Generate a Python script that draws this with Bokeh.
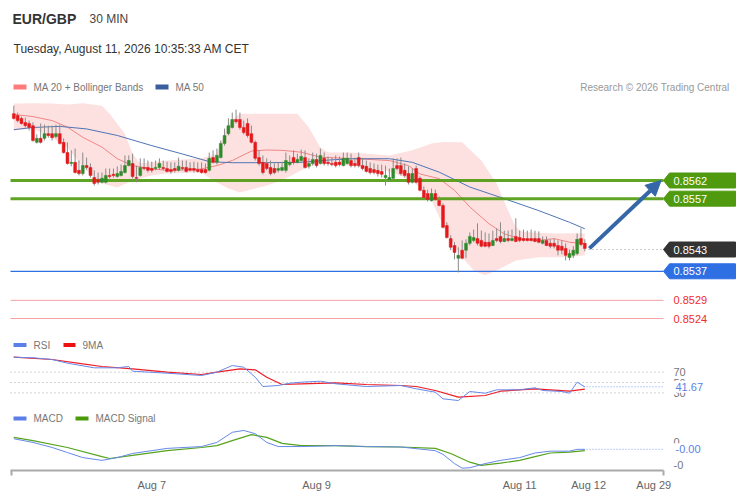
from bokeh.plotting import figure
from bokeh.models import (Range1d, FixedTicker, Label, BoxAnnotation, Arrow,
                          NormalHead, ColumnDataSource)
from bokeh.embed import file_html
from bokeh.resources import INLINE

FONT = "Liberation Sans"

# ---------------- data ----------------
symbol = "EUR/GBP"
timeframe = "30 MIN"
timestamp = "Tuesday, August 11, 2026 10:35:33 AM CET"
credit = "Research \u00a9 2026 Trading Central"

opens = [0.85804, 0.85799, 0.85791, 0.85780, 0.85777, 0.85771, 0.85725, 0.85736, 0.85736, 0.85749,
         0.85749, 0.85741, 0.85749, 0.85725, 0.85697, 0.85667, 0.85670, 0.85648, 0.85639, 0.85661,
         0.85656, 0.85628, 0.85623, 0.85615, 0.85615, 0.85634, 0.85637, 0.85631, 0.85634, 0.85642,
         0.85661, 0.85667, 0.85628, 0.85634, 0.85656, 0.85656, 0.85653, 0.85653, 0.85656, 0.85656,
         0.85653, 0.85650, 0.85653, 0.85648, 0.85656, 0.85656, 0.85653, 0.85653, 0.85650, 0.85650,
         0.85650, 0.85648, 0.85683, 0.85670, 0.85683, 0.85722, 0.85749, 0.85766, 0.85788, 0.85788,
         0.85766, 0.85777, 0.85749, 0.85725, 0.85683, 0.85670, 0.85667, 0.85656, 0.85653, 0.85648,
         0.85648, 0.85648, 0.85664, 0.85683, 0.85670, 0.85675, 0.85683, 0.85659, 0.85667, 0.85678,
         0.85667, 0.85681, 0.85670, 0.85667, 0.85670, 0.85670, 0.85661, 0.85667, 0.85675, 0.85667,
         0.85683, 0.85661, 0.85659, 0.85653, 0.85650, 0.85648, 0.85645, 0.85628, 0.85623, 0.85626,
         0.85661, 0.85661, 0.85648, 0.85639, 0.85615, 0.85653, 0.85626, 0.85593, 0.85584, 0.85565,
         0.85584, 0.85565, 0.85551, 0.85496, 0.85460, 0.85441, 0.85406, 0.85428, 0.85428, 0.85447,
         0.85455, 0.85460, 0.85455, 0.85450, 0.85450, 0.85441, 0.85460, 0.85466, 0.85452, 0.85460,
         0.85455, 0.85466, 0.85463, 0.85460, 0.85460, 0.85460, 0.85460, 0.85460, 0.85447, 0.85455,
         0.85447, 0.85447, 0.85441, 0.85439, 0.85433, 0.85408, 0.85414, 0.85419, 0.85460, 0.85447]

highs = [0.85826, 0.85807, 0.85796, 0.85793, 0.85785, 0.85780, 0.85747, 0.85777, 0.85774, 0.85771,
         0.85771, 0.85774, 0.85774, 0.85736, 0.85725, 0.85703, 0.85708, 0.85675, 0.85697, 0.85683,
         0.85667, 0.85648, 0.85642, 0.85642, 0.85653, 0.85653, 0.85653, 0.85659, 0.85664, 0.85689,
         0.85689, 0.85694, 0.85661, 0.85681, 0.85681, 0.85675, 0.85672, 0.85675, 0.85681, 0.85675,
         0.85672, 0.85670, 0.85670, 0.85683, 0.85675, 0.85675, 0.85670, 0.85672, 0.85670, 0.85670,
         0.85667, 0.85697, 0.85703, 0.85708, 0.85730, 0.85763, 0.85791, 0.85807, 0.85815, 0.85807,
         0.85785, 0.85791, 0.85771, 0.85730, 0.85703, 0.85689, 0.85681, 0.85675, 0.85667, 0.85670,
         0.85672, 0.85697, 0.85689, 0.85703, 0.85694, 0.85705, 0.85703, 0.85681, 0.85697, 0.85694,
         0.85708, 0.85697, 0.85686, 0.85683, 0.85689, 0.85686, 0.85697, 0.85697, 0.85694, 0.85683,
         0.85697, 0.85681, 0.85675, 0.85670, 0.85667, 0.85664, 0.85664, 0.85661, 0.85653, 0.85681,
         0.85681, 0.85683, 0.85667, 0.85659, 0.85653, 0.85661, 0.85631, 0.85604, 0.85595, 0.85598,
         0.85595, 0.85576, 0.85557, 0.85505, 0.85469, 0.85450, 0.85436, 0.85455, 0.85458, 0.85477,
         0.85485, 0.85502, 0.85482, 0.85477, 0.85474, 0.85482, 0.85488, 0.85505, 0.85482, 0.85482,
         0.85485, 0.85516, 0.85482, 0.85485, 0.85482, 0.85485, 0.85482, 0.85480, 0.85466, 0.85466,
         0.85458, 0.85460, 0.85455, 0.85455, 0.85447, 0.85430, 0.85439, 0.85474, 0.85488, 0.85458]

lows = [0.85788, 0.85780, 0.85774, 0.85766, 0.85758, 0.85727, 0.85722, 0.85722, 0.85730, 0.85738,
        0.85730, 0.85736, 0.85719, 0.85694, 0.85664, 0.85659, 0.85639, 0.85634, 0.85634, 0.85650,
        0.85628, 0.85606, 0.85609, 0.85612, 0.85612, 0.85626, 0.85628, 0.85628, 0.85631, 0.85639,
        0.85659, 0.85626, 0.85615, 0.85631, 0.85648, 0.85642, 0.85642, 0.85648, 0.85650, 0.85648,
        0.85642, 0.85639, 0.85642, 0.85645, 0.85648, 0.85642, 0.85645, 0.85642, 0.85642, 0.85639,
        0.85639, 0.85645, 0.85667, 0.85664, 0.85681, 0.85716, 0.85744, 0.85763, 0.85777, 0.85760,
        0.85747, 0.85738, 0.85722, 0.85675, 0.85661, 0.85637, 0.85648, 0.85634, 0.85637, 0.85642,
        0.85645, 0.85642, 0.85659, 0.85664, 0.85667, 0.85670, 0.85653, 0.85653, 0.85661, 0.85656,
        0.85664, 0.85661, 0.85661, 0.85659, 0.85656, 0.85659, 0.85659, 0.85664, 0.85656, 0.85656,
        0.85656, 0.85648, 0.85642, 0.85637, 0.85637, 0.85631, 0.85628, 0.85606, 0.85617, 0.85620,
        0.85648, 0.85634, 0.85628, 0.85609, 0.85612, 0.85612, 0.85590, 0.85570, 0.85562, 0.85562,
        0.85565, 0.85549, 0.85488, 0.85460, 0.85428, 0.85403, 0.85367, 0.85403, 0.85406, 0.85441,
        0.85450, 0.85441, 0.85436, 0.85436, 0.85433, 0.85439, 0.85450, 0.85447, 0.85450, 0.85450,
        0.85452, 0.85450, 0.85450, 0.85452, 0.85452, 0.85452, 0.85450, 0.85447, 0.85444, 0.85439,
        0.85433, 0.85433, 0.85414, 0.85417, 0.85400, 0.85400, 0.85406, 0.85414, 0.85439, 0.85425]

closes = [0.85791, 0.85785, 0.85777, 0.85771, 0.85766, 0.85730, 0.85736, 0.85725, 0.85749, 0.85744,
          0.85738, 0.85749, 0.85722, 0.85697, 0.85667, 0.85670, 0.85642, 0.85639, 0.85661, 0.85656,
          0.85634, 0.85612, 0.85615, 0.85626, 0.85634, 0.85631, 0.85634, 0.85639, 0.85645, 0.85661,
          0.85675, 0.85631, 0.85626, 0.85656, 0.85653, 0.85648, 0.85648, 0.85656, 0.85667, 0.85653,
          0.85645, 0.85645, 0.85648, 0.85659, 0.85653, 0.85645, 0.85648, 0.85648, 0.85645, 0.85642,
          0.85642, 0.85681, 0.85670, 0.85689, 0.85722, 0.85744, 0.85771, 0.85788, 0.85782, 0.85766,
          0.85752, 0.85744, 0.85725, 0.85681, 0.85667, 0.85642, 0.85653, 0.85639, 0.85642, 0.85653,
          0.85656, 0.85675, 0.85670, 0.85670, 0.85678, 0.85686, 0.85656, 0.85667, 0.85678, 0.85661,
          0.85689, 0.85667, 0.85667, 0.85664, 0.85661, 0.85664, 0.85681, 0.85681, 0.85661, 0.85661,
          0.85661, 0.85653, 0.85645, 0.85642, 0.85642, 0.85639, 0.85637, 0.85634, 0.85628, 0.85653,
          0.85653, 0.85639, 0.85634, 0.85615, 0.85639, 0.85615, 0.85593, 0.85573, 0.85568, 0.85584,
          0.85568, 0.85551, 0.85491, 0.85463, 0.85436, 0.85422, 0.85414, 0.85406, 0.85447, 0.85466,
          0.85463, 0.85447, 0.85439, 0.85439, 0.85439, 0.85455, 0.85455, 0.85452, 0.85460, 0.85455,
          0.85460, 0.85452, 0.85455, 0.85455, 0.85455, 0.85455, 0.85452, 0.85450, 0.85455, 0.85441,
          0.85439, 0.85439, 0.85428, 0.85428, 0.85414, 0.85419, 0.85428, 0.85458, 0.85444, 0.85433]

# moving averages / bands (candle index, price)
ma50_idx = [0, 5, 12, 19, 27, 36, 44, 51, 57, 66, 75, 83, 89, 98, 104, 111, 119, 128, 137, 145, 149]
ma50_val = [0.85760, 0.85766, 0.85769, 0.85762, 0.85744, 0.85716, 0.85693, 0.85672, 0.85669, 0.85669,
            0.85670, 0.85677, 0.85680, 0.85680, 0.85670, 0.85643, 0.85602, 0.85570, 0.85537, 0.85505,
            0.85487]

ma20_idx = [0, 5, 10, 14, 18, 23, 27, 31, 36, 40, 44, 49, 53, 57, 62, 66, 70, 75, 80, 89, 98, 103,
            106, 111, 115, 119, 124, 128, 133, 137, 141, 145, 149]
ma20_val = [0.85802, 0.85796, 0.85785, 0.85767, 0.85739, 0.85712, 0.85680, 0.85661, 0.85652, 0.85648,
            0.85649, 0.85652, 0.85661, 0.85675, 0.85701, 0.85704, 0.85703, 0.85698, 0.85684, 0.85680,
            0.85675, 0.85661, 0.85638, 0.85625, 0.85593, 0.85547, 0.85501, 0.85473, 0.85457, 0.85455,
            0.85460, 0.85450, 0.85446]

bb_up_idx = [0, 5, 10, 14, 18, 23, 25, 29, 31, 33, 40, 49, 53, 56, 59, 66, 74, 77, 80, 82, 88, 98,
             104, 109, 112, 117, 122, 126, 129, 131, 133, 141, 146, 149]
bb_up_val = [0.85832, 0.85833, 0.85832, 0.85829, 0.85833, 0.85826, 0.85804, 0.85749, 0.85694, 0.85667,
             0.85675, 0.85681, 0.85694, 0.85777, 0.85804, 0.85804, 0.85804, 0.85766, 0.85711, 0.85697,
             0.85697, 0.85689, 0.85703, 0.85722, 0.85726, 0.85725, 0.85675, 0.85612, 0.85537, 0.85491,
             0.85478, 0.85474, 0.85475, 0.85474]

bb_lo_idx = [0, 5, 10, 14, 18, 23, 27, 31, 36, 40, 49, 52, 56, 59, 66, 70, 75, 79, 88, 98, 104, 109,
             113, 117, 120, 123, 126, 131, 137, 145, 149]
bb_lo_val = [0.85758, 0.85763, 0.85738, 0.85711, 0.85656, 0.85612, 0.85601, 0.85620, 0.85634, 0.85639,
             0.85642, 0.85620, 0.85598, 0.85587, 0.85606, 0.85620, 0.85648, 0.85667, 0.85661, 0.85645,
             0.85620, 0.85565, 0.85474, 0.85409, 0.85372, 0.85359, 0.85372, 0.85400, 0.85409, 0.85409,
             0.85414]

rsi_idx = [0, 5, 10, 14, 21, 27, 30, 31, 40, 49, 53, 57, 60, 63, 65, 69, 72, 75, 80, 84, 92, 101,
           105, 110, 112, 116, 119, 123, 126, 132, 136, 138, 143, 145, 147, 149]
rsi_val = [99.1, 98.0, 94.7, 87.5, 78.5, 78.5, 81.1, 71.9, 68.1, 63.6, 70.0, 83.0, 79.7, 60.3, 42.2,
           44.2, 48.6, 50.6, 52.5, 47.5, 42.2, 44.2, 37.8, 31.2, 18.3, 15.0, 32.5, 29.2, 35.8, 35.8,
           39.7, 34.5, 32.5, 29.2, 50.6, 41.67]

rsi_ma_idx = [0, 10, 18, 23, 31, 40, 49, 53, 59, 63, 66, 70, 75, 84, 92, 101, 105, 110, 116, 123,
              127, 136, 145, 149]
rsi_ma_val = [99.1, 94.7, 86.3, 81.1, 76.6, 70.0, 65.5, 70.0, 76.6, 74.7, 60.3, 46.1, 47.5, 49.4,
              46.1, 44.2, 42.2, 34.5, 21.5, 24.8, 33.1, 37.8, 33.1, 37.0]

macd_idx = [0, 5, 10, 14, 18, 23, 27, 31, 40, 49, 53, 57, 60, 63, 66, 69, 75, 84, 92, 101, 110, 112,
            115, 117, 119, 123, 127, 132, 136, 140, 145, 147, 149]
macd_val = [0.00006, -0.00002, -0.00013, -0.00024, -0.00035, -0.00041, -0.00035, -0.00026, -0.00015,
            -0.00011, -0.00002, 0.00020, 0.00024, 0.00017, -0.00002, -0.00011, -0.00011, -0.00009,
            -0.00011, -0.00012, -0.00020, -0.00028, -0.00048, -0.00058, -0.00057, -0.00048, -0.00041,
            -0.00035, -0.00025, -0.00021, -0.00021, -0.00017, -0.00017]

signal_idx = [0, 5, 14, 23, 25, 31, 40, 49, 53, 57, 62, 66, 70, 75, 84, 92, 101, 110, 114, 119, 122,
              127, 132, 136, 140, 145, 149]
signal_val = [0.00009, 0.00002, -0.00013, -0.00033, -0.00037, -0.00030, -0.00020, -0.00013, -0.00009,
              0.00002, 0.00015, 0.00009, -0.00004, -0.00009, -0.00009, -0.00011, -0.00012, -0.00015,
              -0.00026, -0.00045, -0.00052, -0.00047, -0.00041, -0.00033, -0.00025, -0.00023, -0.00020]

tick_idx = [36, 79, 132, 150, 167]
tick_labels = ["Aug 7", "Aug 9", "Aug 11", "Aug 12", "Aug 29"]

resistance_levels = [0.8562, 0.8557]
last_price = 0.8543
pivot_level = 0.8537
support_levels = [0.8529, 0.8524]
rsi_levels = [70, 50, 30]
rsi_last = 41.67
macd_levels = [0, -0.0005]
macd_level_labels = ["0", "-0"]
macd_last = -0.00017
target_idx = 168.9

# ---------------- layout helpers (page pixels -> data) ----------------
W, H = 738, 500
PX_L, PX_R, PX_T, PX_B = 0, 738, 0, 470   # frame edges in page pixels


def lin(va, pa, vb, pb):
    k = (va - vb) / (pa - pb)
    return lambda px: va + (px - pa) * k


fx = lin(0, 13.3, 149, 584.3)
fp = lin(0.8562, 180, 0.8524, 318)
fr = lin(70, 371.7, 30, 392.3)
fm = lin(0, 441, -0.0005, 464)

p = figure(width=W, height=H, output_backend="svg", toolbar_location=None,
           x_range=Range1d(fx(PX_L), fx(PX_R)), y_range=Range1d(fp(PX_B), fp(PX_T)),
           min_border_left=0, min_border_right=0, min_border_top=0, min_border_bottom=H - PX_B,
           y_axis_location=None, outline_line_color=None, background_fill_color="white")
p.extra_x_ranges = {"px": Range1d(PX_L, PX_R)}
p.extra_y_ranges = {"px": Range1d(PX_B, PX_T),
                    "rsi": Range1d(fr(PX_B), fr(PX_T)),
                    "macd": Range1d(fm(PX_B), fm(PX_T))}
p.grid.visible = False

# x axis
ax = p.xaxis[0]
ax.ticker = FixedTicker(ticks=tick_idx, minor_ticks=[fx(10.5), fx(662.5)])
ax.major_label_overrides = {t: l for t, l in zip(tick_idx, tick_labels)}
ax.bounds = (fx(10), fx(663))
ax.axis_line_color = "#aaaaaa"
ax.axis_line_width = 2
ax.major_tick_out = 0
ax.major_tick_in = 0
ax.minor_tick_out = 5
ax.minor_tick_in = 0
ax.minor_tick_line_color = "#aaaaaa"
ax.minor_tick_line_width = 2
ax.major_label_standoff = 3
ax.major_label_text_font = FONT
ax.major_label_text_font_size = "11px"
ax.major_label_text_color = "#666666"

# ---------------- price panel ----------------
band_x = bb_up_idx + bb_lo_idx[::-1]
band_y = bb_up_val + bb_lo_val[::-1]
p.patch(band_x, band_y, fill_color="#fde1e1", fill_alpha=1, line_color=None)

p.line(ma20_idx, ma20_val, line_color="#f08585", line_width=1)
p.line(ma50_idx, ma50_val, line_color="#4f74b4", line_width=1)

# horizontal levels
GREEN = "#4f9a0e"
p.segment(x0=[10] * 2, x1=[663] * 2, y0=resistance_levels, y1=resistance_levels,
          x_range_name="px", line_color=GREEN, line_width=3, line_alpha=0.9)
p.segment(x0=[10], x1=[663], y0=[pivot_level], y1=[pivot_level],
          x_range_name="px", line_color="#2f6fe4", line_width=1.3)
p.segment(x0=[10] * 2, x1=[663] * 2, y0=support_levels, y1=support_levels,
          x_range_name="px", line_color="#f5a3a3", line_width=1)
p.segment(x0=[588], x1=[663], y0=[last_price], y1=[last_price],
          x_range_name="px", line_color="#999999", line_width=1.2, line_dash="1 3")

# candles
idx = list(range(len(closes)))
colors = ["#2f8a2a" if c >= o else "#e3191c" for o, c in zip(opens, closes)]
src = ColumnDataSource(dict(x=idx, o=opens, h=highs, l=lows, c=closes,
                            top=[max(o, c) for o, c in zip(opens, closes)],
                            bot=[min(o, c) for o, c in zip(opens, closes)],
                            col=colors))
p.segment(x0="x", y0="l", x1="x", y1="h", source=src, line_color="#8a8a8a", line_width=1)
p.vbar(x="x", width=0.75, top="top", bottom="bot", source=src,
       fill_color="col", line_color="col", line_width=0.5)

# projection arrow
ARROW = "#3567a8"
p.add_layout(Arrow(end=NormalHead(size=15, fill_color=ARROW, line_color=ARROW),
                   x_start=idx[-1] + 1.2, y_start=closes[-1],
                   x_end=target_idx, y_end=resistance_levels[0],
                   line_color=ARROW, line_width=4))

# price tags
TAG_H = 7.5 * (0.8562 - 0.8524) / 138.0


def tag(level, color, text):
    p.patch([663, 669, 735, 735, 669],
            [level, level + TAG_H, level + TAG_H, level - TAG_H, level - TAG_H],
            x_range_name="px", fill_color=color, line_color=color)
    p.add_layout(Label(x=673, y=level, x_range_name="px", text=text, text_color="white",
                       text_font=FONT, text_font_size="11px", text_baseline="middle"))


for lv in resistance_levels:
    tag(lv, GREEN, f"{lv:.4f}")
tag(last_price, "#333333", f"{last_price:.4f}")
tag(pivot_level, "#2f6fe4", f"{pivot_level:.4f}")
for lv in support_levels:
    p.add_layout(Label(x=673, y=lv, x_range_name="px", text=f"{lv:.4f}", text_color="#f02d2d",
                       text_font=FONT, text_font_size="11px", text_baseline="middle"))

# ---------------- RSI panel ----------------
p.segment(x0=[10] * 3, x1=[663] * 3, y0=rsi_levels, y1=rsi_levels, x_range_name="px",
          y_range_name="rsi", line_color="#aaaaaa", line_width=1, line_dash="1 3")
p.segment(x0=[583], x1=[663], y0=[rsi_last], y1=[rsi_last], x_range_name="px",
          y_range_name="rsi", line_color="#7f9cf0", line_width=1, line_dash="1 2")
p.line(rsi_ma_idx, rsi_ma_val, y_range_name="rsi", line_color="#ee1c24", line_width=1.2)
p.line(rsi_idx, rsi_val, y_range_name="rsi", line_color="#6688e8", line_width=1)
for lv in rsi_levels:
    p.add_layout(Label(x=673, y=lv, x_range_name="px", y_range_name="rsi", text=str(lv),
                       text_color="#777777", text_font=FONT, text_font_size="11px",
                       text_baseline="middle"))
p.add_layout(Label(x=673, y=rsi_last, x_range_name="px", y_range_name="rsi", text=f"{rsi_last:.2f}",
                   text_color="#5b7fe6", text_font=FONT, text_font_size="11px",
                   text_baseline="middle", background_fill_color="white", padding=2))

# ---------------- MACD panel ----------------
p.segment(x0=[583], x1=[663], y0=[macd_last], y1=[macd_last], x_range_name="px",
          y_range_name="macd", line_color="#7f9cf0", line_width=1, line_dash="1 2")
p.line(signal_idx, signal_val, y_range_name="macd", line_color="#55a31c", line_width=1.2)
p.line(macd_idx, macd_val, y_range_name="macd", line_color="#6688e8", line_width=1)
for lv, tx in zip(macd_levels, macd_level_labels):
    p.add_layout(Label(x=673, y=lv, x_range_name="px", y_range_name="macd", text=tx,
                       text_color="#777777", text_font=FONT, text_font_size="11px",
                       text_baseline="middle"))
p.add_layout(Label(x=673, y=macd_last, x_range_name="px", y_range_name="macd", text="-0.00",
                   text_color="#5b7fe6", text_font=FONT, text_font_size="11px",
                   text_baseline="middle", background_fill_color="white", padding=2))

# ---------------- header & legends (page-pixel positions) ----------------


def text(x, y, s, size="10px", color="#777777", style="normal", align="left"):
    p.add_layout(Label(x=x, y=y, x_range_name="px", y_range_name="px", text=s,
                       text_color=color, text_font=FONT, text_font_size=size,
                       text_font_style=style, text_baseline="middle", text_align=align))


def swatch(x0, x1, y0, y1, color):
    p.add_layout(BoxAnnotation(left=x0, right=x1, top=y0, bottom=y1, x_range_name="px",
                               y_range_name="px", fill_color=color, fill_alpha=1,
                               line_color=None))


text(12, 18, symbol, size="14px", color="#333333", style="bold")
text(89, 18, timeframe, size="12px", color="#444444")
text(13, 48, timestamp, size="12px", color="#333333")

swatch(13, 26, 84, 89, "#ff7b7b")
text(33, 86.5, "MA 20 + Bollinger Bands")
swatch(155, 168, 84, 89, "#3b5f9e")
text(175, 86.5, "MA 50")
text(729, 86.5, credit, color="#999999", align="right")

swatch(13, 26, 342.5, 346.5, "#5b7fe6")
text(33, 344.5, "RSI")
swatch(63, 75, 342.5, 346.5, "#ee1111")
text(82, 344.5, "9MA")

swatch(13, 26, 416, 420, "#5b7fe6")
text(33, 418, "MACD")
swatch(75, 88, 416, 420, "#4a9a0a")
text(95, 418, "MACD Signal")

open("out.html", "w").write(file_html(p, INLINE))
